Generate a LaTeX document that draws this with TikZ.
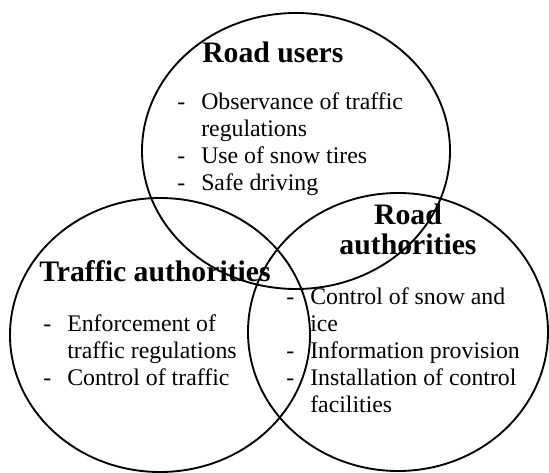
\documentclass[tikz,border=0pt]{standalone}
\usepackage{fontspec}
\setmainfont{Liberation Serif}
\usetikzlibrary{shapes.geometric}
\newcommand{\itemrows}[1]{\begin{tabular}[t]{@{}p{18pt}@{}l@{}}#1\end{tabular}}
\begin{document}
\begin{tikzpicture}[x=0.75pt,y=-0.75pt,
  zone/.style={draw, line width=1.4pt, ellipse, inner sep=0pt},
  heading/.style={font=\fontsize{22.3}{22.5}\selectfont\bfseries, inner sep=0pt},
  items/.style={font=\fontsize{17.85}{20.25}\selectfont, inner sep=0pt, anchor=base west}]
\useasboundingbox (0,0) rectangle (549,473);

% the three overlapping zones of responsibility
\node[zone, minimum width=231pt, minimum height=207pt]   (users)   at (296,151) {};
\node[zone, minimum width=225pt, minimum height=205.5pt] (traffic) at (160,335) {};
\node[zone, minimum width=225pt, minimum height=208.5pt] (road)    at (398,332) {};

% headings
\node[heading, anchor=base west] (usersT)   at (202,63)  {Road users};
\node[heading, anchor=base west] (trafficT) at (39,282)  {Traffic authorities};
\node[heading, anchor=base]      (roadT1)   at (408,225) {Road};
\node[heading, anchor=base]      (roadT2)   at (408,255) {authorities};

% duties of each party
\node[items] (usersL) at (177,110) {\itemrows{
  - & Observance of traffic\\
    & regulations\\
  - & Use of snow tires\\
  - & Safe driving}};
\node[items] (trafficL) at (43,332) {\itemrows{
  - & Enforcement of\\
    & traffic regulations\\
  - & Control of traffic}};
\node[items] (roadL) at (286,305) {\itemrows{
  - & Control of snow and\\
    & ice\\
  - & Information provision\\
  - & Installation of control\\
    & facilities}};
\end{tikzpicture}
\end{document}
